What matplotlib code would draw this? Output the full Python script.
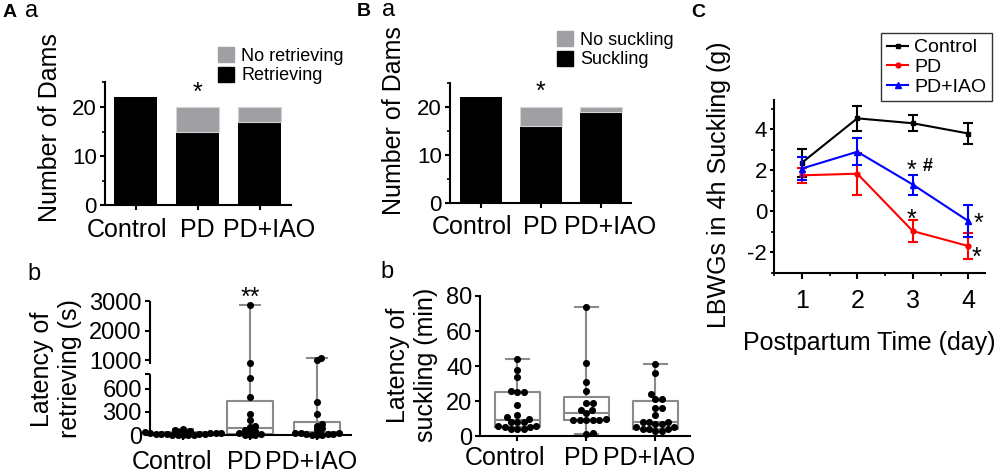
import numpy as np
import matplotlib
matplotlib.use('Agg')
import matplotlib.pyplot as plt
from matplotlib.patches import Patch
from matplotlib.transforms import ScaledTranslation, blended_transform_factory

plt.rcParams['font.family'] = ['Liberation Sans', 'DejaVu Sans']
plt.rcParams['axes.unicode_minus'] = False

W, H = 1000, 473

groups = ['Control', 'PD', 'PD+IAO']

# A-a: dams retrieving pups
retrieving = [22, 15, 17]
no_retrieving = [0, 5, 3]

# B-a: dams suckling pups
suckling = [22, 16, 19]
no_suckling = [0, 4, 1]

# A-b: latency of retrieving (s)
ret_control = [78, 70, 48, 42, 38, 35, 30, 27, 24, 20, 17, 15, 12, 10, 8, 6, 5, 3, 2, 0]
ret_pd = [2880, 900, 740, 500, 280, 200, 120, 110, 60, 50, 40, 20, 10, 5, 5, 0]
ret_iao = [1070, 1000, 430, 270, 140, 120, 90, 80, 40, 30, 25, 20, 15, 10, 8, 5, 3, 0]

# B-b: latency of suckling (min)
suck_control = [44, 38, 34, 26, 25, 25, 18, 12, 11, 10, 8, 8, 6, 5, 4, 4, 4, 5, 6, 8]
suck_pd = [74, 42, 31, 26, 19, 19, 15, 15, 13, 10, 9, 9, 9, 9, 9, 2, 1]
suck_iao = [41, 36, 24, 21, 21, 16, 16, 12, 8, 8, 8, 7, 7, 5, 5, 4, 4, 4, 3, 3]

# C: LBWGs in 4h suckling (g), mean and error
days = [1, 2, 3, 4]
lbwg_control = [2.35, 4.52, 4.28, 3.78]
lbwg_control_err = [0.68, 0.62, 0.38, 0.50]
lbwg_pd = [1.74, 1.82, -0.98, -1.71]
lbwg_pd_err = [0.36, 1.02, 0.53, 0.63]
lbwg_iao = [2.07, 2.89, 1.29, -0.49]
lbwg_iao_err = [0.57, 0.67, 0.49, 0.78]

GRAY = '#a0a0a4'
BOXC = '#8a8a8a'

fig = plt.figure(figsize=(W / 100, H / 100), dpi=100)


def add_axes_px(left, top, right, bottom):
    return fig.add_axes([left / W, 1 - bottom / H, (right - left) / W, (bottom - top) / H])


def style(ax):
    for s in ['top', 'right']:
        ax.spines[s].set_visible(False)
    for s in ['left', 'bottom']:
        ax.spines[s].set_linewidth(1.5)
    ax.tick_params(width=1.5, length=3.5, direction='out', labelsize=17, pad=2)
    ax.tick_params(which='minor', width=1.2, length=2.2)
    ax.set_facecolor('none')


def shift_labels(ax, offsets):
    for lbl, dx in zip(ax.get_xticklabels(), offsets):
        lbl.set_transform(lbl.get_transform() + ScaledTranslation(dx / 100, 0, fig.dpi_scale_trans))


def swarm(ypix, d, k=1.0):
    # simple beeswarm in pixel space; k stretches vertical distance
    xs = np.zeros(len(ypix))
    placed = []
    for i in np.argsort(ypix, kind='stable'):
        y = ypix[i]
        cands = [0.0]
        for px_, py_ in placed:
            dy = k * abs(py_ - y)
            if dy < d:
                dx = np.sqrt(d * d - dy * dy)
                cands += [px_ + dx, px_ - dx]
        cands.sort(key=abs)
        for c in cands:
            if all((c - px_) ** 2 + (k * (y - py_)) ** 2 >= d * d - 1e-6 for px_, py_ in placed):
                xs[i] = c
                placed.append((c, y))
                break
    return xs


def box_swarm(ax, data, d, k, width, capw):
    stats = []
    for vals in data:
        v = np.asarray(vals, float)
        q1, med, q3 = np.percentile(v, [25, 50, 75], method='weibull')
        stats.append(dict(med=med, q1=q1, q3=q3, whislo=v.min(), whishi=v.max(), fliers=[]))
    pos = np.arange(len(data))
    lp = dict(color=BOXC, linewidth=1.5)
    ax.bxp(stats, positions=pos, widths=width, showfliers=False, capwidths=capw,
           boxprops=lp, whiskerprops=lp, capprops=lp, medianprops=lp, manage_ticks=False)
    ppu = ax.transData.transform((1, 0))[0] - ax.transData.transform((0, 0))[0]
    for p, vals in zip(pos, data):
        v = np.asarray(vals, float)
        ypix = ax.transData.transform(np.column_stack([np.zeros_like(v) + p, v]))[:, 1]
        xo = swarm(ypix, d, k) / ppu
        ax.scatter(p + xo, v, s=26, color='black', linewidths=0, zorder=3, clip_on=False)


def stacked_bars(ax, low, high, low_label, high_label, legend_xy):
    x = np.arange(len(groups))
    ax.bar(x, low, 0.7, color='black', edgecolor='none')
    hx = [xi for xi, h in zip(x, high) if h > 0]
    hb = [l for l, h in zip(low, high) if h > 0]
    hh = [h for h in high if h > 0]
    ax.bar(hx, hh, 0.7, bottom=hb, color=GRAY, edgecolor='#d4d4d4', linewidth=0.8)
    ax.set_xlim(-0.5, 2.5)
    ax.set_ylim(0, 25)
    ax.set_yticks([0, 10, 20])
    ax.set_yticks([5, 15, 25], minor=True)
    ax.tick_params(axis='y', labelsize=16)
    ax.set_xticks(x, groups)
    ax.tick_params(axis='x', labelsize=18, pad=5.5)
    ax.legend([Patch(color=GRAY), Patch(color='black')], [high_label, low_label],
              loc='upper left', bbox_to_anchor=legend_xy, bbox_transform=fig.transFigure,
              frameon=False, fontsize=13, handlelength=0.9, handleheight=0.9,
              handletextpad=0.4, labelspacing=0.1, borderpad=0, borderaxespad=0)


# ---------- A-a ----------
ax = add_axes_px(104.5, 82.5, 290.5, 205)
style(ax)
stacked_bars(ax, retrieving, no_retrieving, 'Retrieving', 'No retrieving', (218 / W, 1 - 47 / H))
ax.set_xlim(-0.5, 2.5)
ax.text(1, 21.4, '*', ha='center', va='baseline', fontsize=18)
ax.set_ylabel('Number of Dams', fontsize=18)
ax.yaxis.set_label_coords(62 / W, 1 - 128 / H, transform=fig.transFigure)
shift_labels(ax, [-9, 0, 10])

# ---------- B-a ----------
ax = add_axes_px(449.5, 83, 630.5, 203)
style(ax)
stacked_bars(ax, suckling, no_suckling, 'Suckling', 'No suckling', (557 / W, 1 - 31 / H))
ax.set_xlim(-0.52, 2.5)
ax.text(1, 21.7, '*', ha='center', va='baseline', fontsize=18)
ax.set_ylabel('Number of Dams', fontsize=18)
ax.yaxis.set_label_coords(406 / W, 1 - 121 / H, transform=fig.transFigure)
shift_labels(ax, [-9, 0, 10])

# ---------- A-b (broken axis) ----------
brk_v = [0, 800, 870, 3000]
brk_p = [0, 61.4, 71, 134]
s1 = brk_p[1] / brk_v[1]
s2 = (brk_p[3] - brk_p[2]) / (brk_v[3] - brk_v[2])
sg = (brk_p[2] - brk_p[1]) / (brk_v[2] - brk_v[1])


def fwd(y):
    y = np.asarray(y, float)
    return np.where(y <= 800, y * s1,
                    np.where(y >= 870, brk_p[2] + (y - 870) * s2, brk_p[1] + (y - 800) * sg))


def inv(p):
    p = np.asarray(p, float)
    return np.where(p <= brk_p[1], p / s1,
                    np.where(p >= brk_p[2], 870 + (p - brk_p[2]) / s2, 800 + (p - brk_p[1]) / sg))


ax = add_axes_px(149.5, 301, 350.5, 435)
style(ax)
ax.set_yscale('function', functions=(fwd, inv))
ax.set_ylim(0, 3000)
ax.set_xlim(-0.5, 2.5)
ax.spines['left'].set_visible(False)
bt = blended_transform_factory(ax.transAxes, ax.transData)
ax.plot([0, 0], [0, 800], transform=bt, color='black', lw=1.5, clip_on=False, solid_capstyle='butt')
ax.plot([0, 0], [870, 3000], transform=bt, color='black', lw=1.5, clip_on=False, solid_capstyle='butt')
ax.set_yticks([0, 300, 600, 800, 1000, 2000, 3000], ['0', '300', '600', '', '1000', '2000', '3000'])
ax.yaxis.set_minor_locator(matplotlib.ticker.NullLocator())
box_swarm(ax, [ret_control, ret_pd, ret_iao], 5.5, 1.8, 0.69, 0.3)
ax.set_xticks([0, 1, 2], groups)
ax.tick_params(axis='x', labelsize=18, pad=7)
ax.text(1, 2880, '**', ha='center', va='baseline', fontsize=18)
ax.set_ylabel('Latency of\nretrieving (s)', fontsize=18)
ax.yaxis.set_label_coords(82 / W, 1 - 369 / H, transform=fig.transFigure)
shift_labels(ax, [-11, -6, -6])

# ---------- B-b ----------
ax = add_axes_px(480, 296, 689.8, 436)
style(ax)
ax.set_ylim(0, 80)
ax.set_xlim(-0.54, 2.5)
ax.set_yticks([0, 20, 40, 60, 80])
box_swarm(ax, [suck_control, suck_pd, suck_iao], 6.5, 1.0, 0.65, 0.33)
ax.set_xticks([0, 1, 2], groups)
ax.tick_params(axis='x', labelsize=18, pad=4)
ax.set_ylabel('Latency of\nsuckling (min)', fontsize=18)
ax.yaxis.set_label_coords(438 / W, 1 - 365 / H, transform=fig.transFigure)
shift_labels(ax, [-12, -5, -6])

# ---------- C ----------
ax = add_axes_px(774, 100.3, 985, 272.5)
style(ax)
series = [
    (lbwg_control, lbwg_control_err, 'black', 's', 3.5, 'Control'),
    (lbwg_pd, lbwg_pd_err, 'red', 'o', 3.5, 'PD'),
    (lbwg_iao, lbwg_iao_err, 'blue', '^', 4.5, 'PD+IAO'),
]
for vals, err, col, mk, ms, lab in series:
    ax.errorbar(days, vals, yerr=err, fmt='none', ecolor=col, elinewidth=1.5,
                capsize=3.5, capthick=1.5)
    ax.plot(days, vals, color=col, marker=mk, markersize=ms, lw=1.5, label=lab)
ax.set_xlim(0.5, 4.3)
ax.set_ylim(-3, 5.4)
ax.set_xticks(days)
ax.set_xticks([0.5, 1.5, 2.5, 3.5], minor=True)
ax.set_yticks([-2, 0, 2, 4])
ax.set_yticks([-3, -1, 1, 3, 5], minor=True)
ax.tick_params(axis='x', which='major', length=4, labelsize=18, pad=8)
ax.tick_params(axis='y', which='major', length=3, labelsize=16, pad=2)
ax.text(2.98, 1.6, '*', ha='center', va='baseline', fontsize=18)
ax.text(3.27, 1.95, '#', ha='center', va='baseline', fontsize=13, fontweight='bold')
ax.text(2.98, -0.76, '*', ha='center', va='baseline', fontsize=18)
ax.text(4.18, -0.95, '*', ha='center', va='baseline', fontsize=18)
ax.text(4.15, -2.61, '*', ha='center', va='baseline', fontsize=18)
ax.set_xlabel('Postpartum Time (day)', fontsize=18)
ax.xaxis.set_label_coords(869 / W, 1 - 331 / H, transform=fig.transFigure)
ax.set_ylabel('LBWGs in 4h Suckling (g)', fontsize=18)
ax.yaxis.set_label_coords(731 / W, 1 - 185 / H, transform=fig.transFigure)
leg = ax.legend(loc='upper right', bbox_to_anchor=(992 / W, 1 - 33 / H),
                bbox_transform=fig.transFigure, frameon=True, fancybox=False,
                edgecolor='black', fontsize=14, handlelength=1.1, handletextpad=0.3,
                labelspacing=0.1, borderpad=0.3, borderaxespad=0)
leg.get_frame().set_linewidth(1.0)

# ---------- panel letters ----------
for x, y, t, kw in [(3, 17, 'A', dict(fontsize=14, fontweight='bold')),
                    (25, 17, 'a', dict(fontsize=17)),
                    (27, 280, 'b', dict(fontsize=17)),
                    (357, 16, 'B', dict(fontsize=14, fontweight='bold')),
                    (382, 16, 'a', dict(fontsize=17)),
                    (380, 278, 'b', dict(fontsize=17)),
                    (691, 17, 'C', dict(fontsize=14, fontweight='bold'))]:
    fig.text(x / W, 1 - y / H, t, va='baseline', ha='left', **kw)

fig.savefig('out.png', dpi=100)
